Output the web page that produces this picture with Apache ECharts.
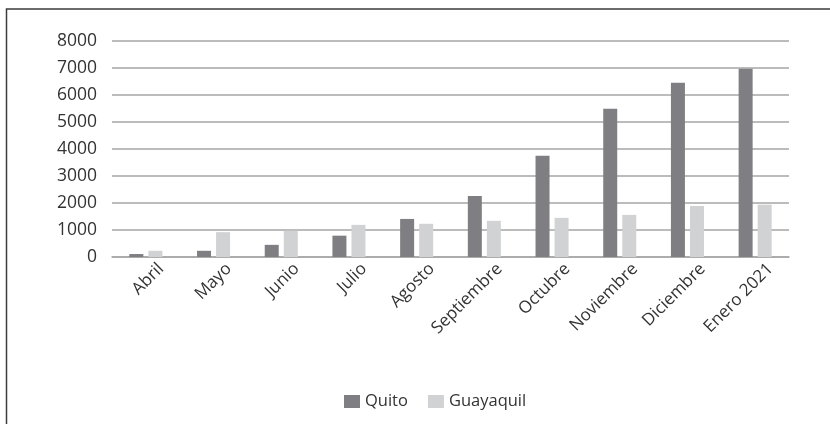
<!DOCTYPE html>
<html>
<head>
<meta charset="utf-8">
<script src="https://cdn.jsdelivr.net/npm/echarts@6/dist/echarts.min.js"></script>
<style>
html,body{margin:0;padding:0;background:#fff;}
#chart{width:830px;height:424px;}
</style>
</head>
<body>
<div id="chart"></div>
<script>
const categories = ['Abril','Mayo','Junio','Julio','Agosto','Septiembre','Octubre','Noviembre','Diciembre','Enero 2021'];
const quito = [110, 230, 450, 790, 1410, 2260, 3750, 5490, 6450, 6970];
const guayaquil = [230, 920, 970, 1190, 1230, 1340, 1450, 1560, 1890, 1940];
const seriesNames = ['Quito', 'Guayaquil'];

const FONT = '"Open Sans", "DejaVu Sans", sans-serif';
const chart = echarts.init(document.getElementById('chart'), null, {renderer: 'canvas'});
chart.setOption({
  animation: false,
  backgroundColor: '#ffffff',
  graphic: [{
    type: 'rect',
    shape: {x: 6.5, y: 9, width: 900, height: 600},
    style: {fill: 'none', stroke: '#3c3c3c', lineWidth: 1.5},
    silent: true
  }],
  grid: {left: 112, right: 41, top: 41, bottom: 167, containLabel: false},
  legend: {
    data: seriesNames,
    left: 344,
    top: 393,
    padding: 0,
    itemWidth: 16,
    itemHeight: 13,
    itemGap: 20,
    icon: 'rect',
    textStyle: {fontFamily: FONT, fontSize: 16.5, color: '#333333'}
  },
  xAxis: {
    type: 'category',
    data: categories,
    axisLine: {show: true, lineStyle: {color: '#a6a6a6', width: 1.5}},
    axisTick: {show: false},
    axisLabel: {
      interval: 0,
      rotate: 45,
      align: 'right',
      verticalAlign: 'top',
      padding: [13, 0, 0, 0],
      margin: -6,
      fontFamily: FONT,
      fontSize: 17,
      color: '#333333'
    }
  },
  yAxis: {
    type: 'value',
    min: 0,
    max: 8000,
    interval: 1000,
    axisLine: {show: false},
    axisTick: {show: false},
    axisLabel: {margin: 15, fontFamily: FONT, fontSize: 17.5, color: '#333333', formatter: function (v) { return String(v); }},
    splitLine: {lineStyle: {color: '#a6a6a6', width: 1.5}}
  },
  series: [
    {name: seriesNames[0], type: 'bar', data: quito, barWidth: 14, barGap: '36%', itemStyle: {color: '#7f7f83'}},
    {name: seriesNames[1], type: 'bar', data: guayaquil, barWidth: 14, barGap: '36%', itemStyle: {color: '#d1d2d4'}}
  ]
});
</script>
</body>
</html>
